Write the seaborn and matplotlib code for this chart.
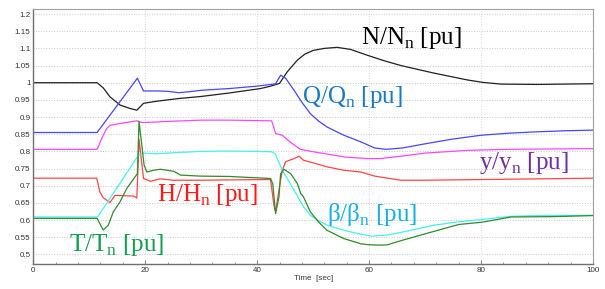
import pandas as pd
import matplotlib.pyplot as plt
import seaborn as sns
import numpy as np
from matplotlib.ticker import MultipleLocator, FuncFormatter

sns.set_style("whitegrid")
plt.rcParams['font.family'] = ['Liberation Sans', 'DejaVu Sans']
plt.rcParams['mathtext.fontset'] = 'custom'
plt.rcParams['mathtext.rm'] = 'Liberation Serif'

# speed N/Nn
t_N = [0, 11.4, 12.5, 13.7, 15.5, 17.3, 18.5, 19.7, 22, 26, 30, 35, 40.6, 42.4, 44,
       45.4, 47.2, 48.5, 50, 52, 54.3, 56.7, 59.7, 62.7, 65.7, 71.6, 77.6, 80.3, 83.6, 90, 100]
N = [1.0, 1.0, 0.985, 0.959, 0.935, 0.925, 0.92, 0.94, 0.946, 0.954, 0.96, 0.97, 0.983, 0.99, 0.998,
     1.032, 1.066, 1.083, 1.094, 1.1, 1.103, 1.097, 1.08, 1.064, 1.05, 1.028, 1.008, 1.001, 0.996, 0.995, 0.997]

# flow Q/Qn
t_Q = [0, 11.4, 18.6, 19.7, 22, 24, 26, 28, 30, 35, 40, 42.5, 43.3, 44.2, 45.1, 46.6, 48, 49.5,
       51, 52.5, 55.5, 58.5, 61, 63, 66, 70, 75, 80, 85, 90, 95, 100]
Q = [0.855, 0.855, 1.013, 0.976, 0.976, 0.975, 0.971, 0.974, 0.978, 0.983, 0.99, 0.995, 0.997, 1.022,
     1.013, 0.978, 0.943, 0.91, 0.888, 0.871, 0.847, 0.828, 0.81, 0.806, 0.81, 0.822, 0.836, 0.847,
     0.853, 0.857, 0.86, 0.862]

# opening y/yn
t_Y = [0, 11.4, 12.3, 13.1, 13.7, 15, 18.5, 19.2, 19.7, 25, 30, 35, 42.6, 43.3, 44.5, 46, 47.7, 50,
       53.7, 56, 59.7, 62, 65.7, 70, 77.6, 85, 92, 100]
Y = [0.806, 0.806, 0.84, 0.866, 0.876, 0.88, 0.889, 0.885, 0.884, 0.888, 0.891, 0.891, 0.889, 0.852,
     0.847, 0.826, 0.806, 0.799, 0.789, 0.783, 0.779, 0.779, 0.786, 0.795, 0.803, 0.806, 0.807, 0.808]

# head H/Hn
t_H = [0, 11.35, 11.9, 12.5, 13.1, 13.7, 14.6, 16, 17.9, 18.5, 18.9, 19.7, 20.9, 22.7, 25, 30, 35,
       42.4, 43.0, 43.3, 43.9, 44.5, 45.1, 46.6, 47.5, 48.3, 49.5, 52.5, 55.5, 58.5, 61, 65.7, 70,
       80, 90, 100]
H = [0.722, 0.722, 0.682, 0.665, 0.658, 0.651, 0.672, 0.671, 0.67, 0.664, 0.835, 0.721, 0.713, 0.72,
     0.716, 0.716, 0.717, 0.718, 0.643, 0.624, 0.687, 0.745, 0.77, 0.779, 0.786, 0.774, 0.769, 0.755,
     0.745, 0.74, 0.728, 0.716, 0.716, 0.718, 0.72, 0.722]

# blade angle beta/beta_n
t_B = [0, 11.5, 15, 18.8, 19.7, 22, 25, 30, 35, 40, 42.5, 43.2, 44.5, 46.6, 48.3, 49.5, 51, 52.5,
       55.5, 58.5, 60.5, 63, 65.7, 71.6, 76, 80.3, 85.4, 90, 100]
B = [0.609, 0.609, 0.695, 0.789, 0.795, 0.793, 0.796, 0.8, 0.801, 0.8, 0.799, 0.794, 0.745, 0.687,
     0.638, 0.614, 0.598, 0.585, 0.57, 0.559, 0.553, 0.556, 0.564, 0.585, 0.595, 0.602, 0.611, 0.613, 0.614]

# torque T/Tn
t_T = [0, 11.4, 12.2, 12.5, 13.4, 14.3, 15.5, 16.7, 18.2, 18.6, 18.9, 19.8, 20.3, 21.5, 22.7, 25.1,
       26.3, 29.8, 35, 42.4, 42.8, 43.3, 43.9, 44.2, 44.8, 46, 47.2, 47.8, 48.3, 49.5, 51, 52.5, 55.5,
       58.5, 60, 62, 63.3, 65.7, 71.6, 76, 80.3, 85.4, 93, 100]
T = [0.605, 0.605, 0.58, 0.571, 0.585, 0.624, 0.653, 0.692, 0.726, 0.735, 0.888, 0.76, 0.74, 0.745,
     0.748, 0.742, 0.731, 0.728, 0.727, 0.721, 0.705, 0.619, 0.667, 0.735, 0.748, 0.735, 0.706, 0.677,
     0.667, 0.624, 0.594, 0.57, 0.546, 0.531, 0.528, 0.527, 0.528, 0.54, 0.567, 0.587, 0.594, 0.609,
     0.61, 0.613]

series = [
    (t_N, N, '#202020'),
    (t_Q, Q, '#4646ff'),
    (t_Y, Y, '#ff46ff'),
    (t_H, H, '#ff4646'),
    (t_B, B, '#46f0f0'),
    (t_T, T, '#2e8b2e'),
]

labels = [
    ('N/N$_\\mathrm{n}$ [pu]', 58.5, 1.129, 'black'),
    ('Q/Q$_\\mathrm{n}$ [pu]', 48.1, 0.959, '#1a7abf'),
    ('y/y$_\\mathrm{n}$ [pu]', 79.6, 0.767, '#7030a0'),
    ('H/H$_\\mathrm{n}$ [pu]', 22.1, 0.674, '#ff1a1a'),
    ('β/β$_\\mathrm{n}$ [pu]', 52.5, 0.615, '#18aee8'),
    ('T/T$_\\mathrm{n}$ [pu]', 6.3, 0.527, '#12a050'),
]

fig, ax = plt.subplots(figsize=(6.05, 2.89), dpi=100)
fig.subplots_adjust(left=0.055, right=0.980, bottom=0.0865, top=0.968)

for t, v, c in series:
    df = pd.DataFrame({'t': t, 'v': v})
    sns.lineplot(data=df, x='t', y='v', color=c, linewidth=0.9, estimator=None, sort=False, ax=ax)

for txt, x, y, c in labels:
    ax.text(x, y, txt, color=c, fontsize=18, family='Liberation Serif', ha='left', va='center')

ax.set_xlim(0, 100)
ax.set_ylim(0.472, 1.214)
ax.xaxis.set_major_locator(MultipleLocator(20))
ax.xaxis.set_minor_locator(MultipleLocator(4))
ax.yaxis.set_major_locator(MultipleLocator(0.05))
ax.yaxis.set_major_formatter(FuncFormatter(lambda v, p: '%g' % round(v, 2)))

ax.grid(True, which='major', axis='y', color='#c8c8c8', linestyle=':', linewidth=0.7)
ax.grid(True, which='major', axis='x', color='#d8d8d8', linestyle=':', linewidth=0.7)
ax.tick_params(axis='both', which='major', labelsize=5.8, labelcolor='#333333', pad=2)
ax.tick_params(axis='x', which='major', direction='in', length=3, color='#888888', bottom=True)
ax.tick_params(axis='x', which='minor', direction='in', length=1.5, color='#888888', bottom=True)
ax.tick_params(axis='y', length=0)

ax.set_xlabel('Time  [sec]', fontsize=5.8, color='#333333', labelpad=1)
ax.set_ylabel('')

for s in ['left', 'bottom']:
    ax.spines[s].set_color('#707070')
    ax.spines[s].set_linewidth(1.0)
for s in ['top', 'right']:
    ax.spines[s].set_color('#a0a0a0')
    ax.spines[s].set_linewidth(0.8)

plt.savefig('out.png', dpi=100)
